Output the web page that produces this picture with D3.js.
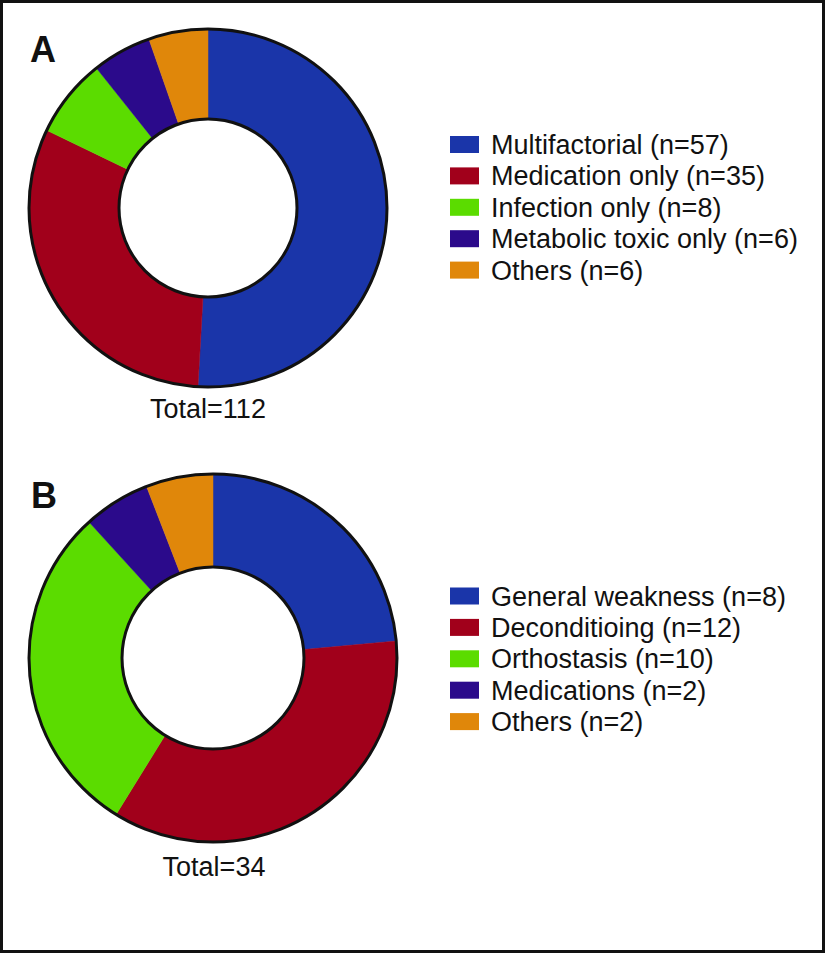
<!DOCTYPE html>
<html>
<head>
<meta charset="utf-8">
<script src="https://cdn.jsdelivr.net/npm/d3@7"></script>
<style>
  html, body { margin: 0; padding: 0; background: #fff; }
  svg { display: block; }
  text { font-family: "Liberation Sans", Arial, Helvetica, sans-serif; fill: #111; }
</style>
</head>
<body>
<svg id="chart" width="825" height="953"></svg>
<script>
// ---- Data ----
const categoriesA = ["Multifactorial", "Medication only", "Infection only", "Metabolic toxic only", "Others"];
const valuesA = [57, 35, 8, 6, 6];
const totalLabelA = "Total=112";

const categoriesB = ["General weakness", "Deconditioing", "Orthostasis", "Medications", "Others"];
const valuesB = [8, 12, 10, 2, 2];
const totalLabelB = "Total=34";

const colors = ["#1a35a9", "#a1001b", "#5bdc00", "#2b0a8b", "#e0870a"];

// ---- Drawing ----
const svg = d3.select("#chart");

svg.append("rect")
  .attr("x", 1.5).attr("y", 1.5)
  .attr("width", 822).attr("height", 950)
  .attr("fill", "#fff").attr("stroke", "#111").attr("stroke-width", 3);

function donut(cfg) {
  const g = svg.append("g").attr("transform", `translate(${cfg.cx},${cfg.cy})`);
  const pie = d3.pie().sort(null).value(d => d)(cfg.values);
  const arc = d3.arc().innerRadius(cfg.r0).outerRadius(cfg.r1);
  g.selectAll("path.slice").data(pie).join("path")
    .attr("class", "slice")
    .attr("d", arc)
    .attr("fill", (d, i) => colors[i])
    .attr("stroke", (d, i) => colors[i])
    .attr("stroke-width", 0.5);
  g.append("circle").attr("r", cfg.r1).attr("fill", "none").attr("stroke", "#111").attr("stroke-width", 3);
  g.append("circle").attr("r", cfg.r0).attr("fill", "none").attr("stroke", "#111").attr("stroke-width", 3);

  svg.append("text")
    .attr("x", cfg.totalX).attr("y", cfg.totalY)
    .attr("text-anchor", "middle")
    .style("font-size", "27px")
    .text(cfg.total);

  svg.append("text")
    .attr("x", cfg.letterX).attr("y", cfg.letterY)
    .style("font-size", "36px").style("font-weight", "bold")
    .text(cfg.letter);

  const leg = svg.append("g");
  const rowY = d3.scalePoint().domain(d3.range(cfg.categories.length))
    .range([cfg.legTop, cfg.legTop + 31.4 * (cfg.categories.length - 1)]);
  const rows = leg.selectAll("g").data(cfg.categories).join("g")
    .attr("transform", (d, i) => `translate(${cfg.legX},${rowY(i)})`);
  rows.append("rect")
    .attr("x", 0).attr("y", -8.5).attr("width", 29).attr("height", 17)
    .attr("fill", (d, i) => colors[i]);
  rows.append("text")
    .attr("x", 41).attr("y", 9.5)
    .style("font-size", "27px")
    .text((d, i) => `${d} (n=${cfg.values[i]})`);
}

donut({
  cx: 208, cy: 208, r0: 89, r1: 179,
  values: valuesA, categories: categoriesA, total: totalLabelA,
  totalX: 208, totalY: 418, letter: "A", letterX: 30, letterY: 62,
  legX: 450, legTop: 144.5
});

donut({
  cx: 213, cy: 658, r0: 91, r1: 184,
  values: valuesB, categories: categoriesB, total: totalLabelB,
  totalX: 214, totalY: 876, letter: "B", letterX: 31, letterY: 508,
  legX: 450, legTop: 596
});
</script>
</body>
</html>
